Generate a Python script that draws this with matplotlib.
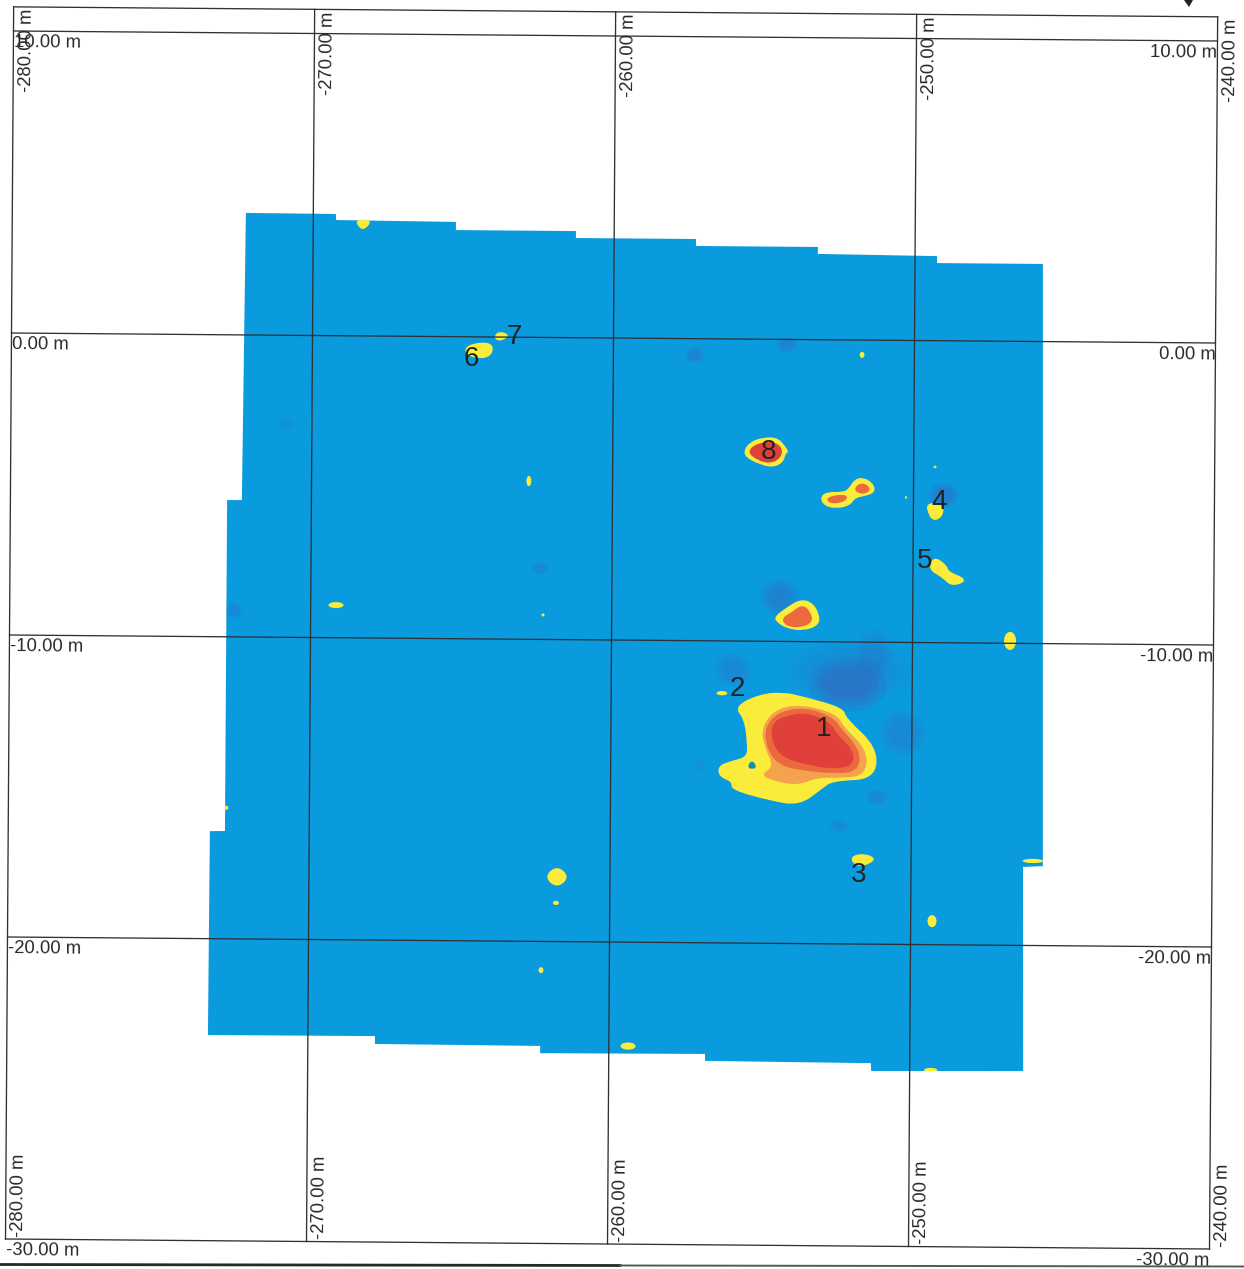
import matplotlib
matplotlib.use("Agg")
import matplotlib.pyplot as plt
from matplotlib.patches import Polygon, Ellipse, PathPatch
from matplotlib.path import Path
from matplotlib.transforms import Affine2D

plt.rcParams['font.family'] = ['Liberation Sans', 'DejaVu Sans']

# map grid, metres
grid_east = [-280, -270, -260, -250, -240]
grid_north = [10, 0, -10, -20, -30]
frame_top = 10.8

east_labels = ["-280.00 m", "-270.00 m", "-260.00 m", "-250.00 m", "-240.00 m"]
north_labels = ["10.00 m", "0.00 m", "-10.00 m", "-20.00 m", "-30.00 m"]

# surveyed area outline (east, north)
survey_area = [(-272.24, 4.04), (-269.25, 4.03), (-269.24, 3.83), (-265.26, 3.80), (-265.26, 3.53),
               (-261.27, 3.53), (-261.27, 3.30), (-257.28, 3.30), (-257.28, 3.07), (-253.23, 3.07),
               (-253.23, 2.84), (-249.27, 2.80), (-249.27, 2.57), (-245.75, 2.57), (-245.62, -17.37),
               (-246.28, -17.40), (-246.23, -24.16), (-251.28, -24.20), (-251.29, -23.94), (-256.80, -23.91),
               (-256.80, -23.68), (-262.28, -23.70), (-262.28, -23.46), (-267.77, -23.44), (-267.77, -23.18),
               (-273.32, -23.19), (-273.30, -16.44), (-272.80, -16.43), (-272.80, -5.47), (-272.31, -5.47)]

# anomaly 1, one outline per colour band
blob1_yellow = [(-255.88, -12.17), (-255.05, -11.77), (-254.28, -11.70), (-253.62, -11.84), (-252.29, -12.20),
                (-252.22, -12.53), (-251.16, -13.49), (-251.23, -14.52), (-252.62, -14.58), (-252.99, -14.85),
                (-253.72, -15.41), (-254.72, -15.25), (-255.98, -14.91), (-255.94, -14.65), (-256.38, -14.48),
                (-256.41, -14.15), (-255.98, -13.99), (-255.45, -13.85), (-255.45, -13.36), (-255.55, -12.60)]
blob1_orange = [(-254.45, -12.20), (-253.49, -12.13), (-252.49, -12.43), (-252.29, -12.83), (-251.49, -13.59),
                (-251.56, -14.42), (-252.49, -14.48), (-253.15, -14.48), (-253.82, -14.75), (-254.62, -14.58),
                (-254.98, -14.42), (-254.55, -14.15), (-254.88, -13.49), (-254.98, -12.83)]
blob1_redorange = [(-254.38, -12.33), (-253.49, -12.20), (-252.62, -12.53), (-252.39, -12.86), (-251.73, -13.59),
                   (-251.79, -14.25), (-252.49, -14.35), (-253.62, -14.25), (-254.38, -14.09), (-254.78, -13.59),
                   (-254.88, -12.83)]
blob1_red = [(-254.28, -12.50), (-253.49, -12.36), (-252.72, -12.70), (-252.49, -13.09), (-251.96, -13.59),
             (-251.96, -14.09), (-252.72, -14.19), (-253.62, -14.02), (-254.28, -13.82), (-254.62, -13.36),
             (-254.65, -12.76)]
blob1_hole = [(-255.45, -14.20), (-255.31, -13.95), (-255.15, -14.20)]

# the other anomalies with a hot core
blob9_yellow = [(-254.57, -9.19), (-254.17, -8.89), (-253.74, -8.62), (-253.34, -8.72), (-253.11, -9.12),
                (-253.14, -9.45), (-253.64, -9.62), (-254.17, -9.55), (-254.50, -9.35)]
blob9_core = [(-254.34, -9.25), (-254.01, -9.05), (-253.67, -8.79), (-253.41, -9.02), (-253.34, -9.35),
              (-253.74, -9.52), (-254.17, -9.48)]
blob8_yellow = [(-255.64, -3.73), (-255.44, -3.43), (-255.01, -3.27), (-254.54, -3.27), (-254.28, -3.56),
                (-254.18, -3.73), (-254.28, -3.76), (-254.35, -4.06), (-254.71, -4.23), (-255.18, -4.09),
                (-255.51, -3.93)]
blob8_core = [(-255.51, -3.73), (-255.21, -3.47), (-254.68, -3.40), (-254.38, -3.60), (-254.44, -3.93),
              (-254.78, -4.09), (-255.18, -3.99)]
dumbbell_yellow = [(-253.08, -5.23), (-252.88, -5.06), (-252.35, -5.06), (-252.15, -4.96), (-251.95, -4.63),
                   (-251.68, -4.57), (-251.38, -4.73), (-251.28, -5.00), (-251.55, -5.13), (-251.95, -5.20),
                   (-252.11, -5.46), (-252.55, -5.56), (-252.94, -5.49)]
dumbbell_core_a = [(-252.88, -5.23), (-252.35, -5.13), (-252.18, -5.23), (-252.45, -5.39), (-252.78, -5.39)]
dumbbell_core_b = [(-251.95, -4.90), (-251.71, -4.73), (-251.45, -4.90), (-251.55, -5.06), (-251.85, -5.06)]

# yellow only anomalies
blob4 = [(-249.55, -5.48), (-249.38, -5.38), (-249.05, -5.44), (-249.01, -5.71), (-249.18, -5.91),
         (-249.38, -5.91), (-249.48, -5.71)]
blob5 = [(-249.37, -7.26), (-249.17, -7.23), (-248.87, -7.49), (-248.84, -7.66), (-248.18, -7.92),
         (-248.71, -8.12), (-249.01, -7.82), (-249.44, -7.59)]
blob3 = [(-251.96, -17.09), (-251.53, -17.02), (-251.16, -17.19), (-251.63, -17.42), (-251.93, -17.32)]
blob6 = [(-264.93, -0.40), (-264.66, -0.23), (-264.10, -0.20), (-264.00, -0.43), (-264.16, -0.66),
         (-264.50, -0.69), (-264.83, -0.60)]
blob7 = [(-263.94, 0.04), (-263.78, 0.17), (-263.48, 0.07), (-263.68, -0.09), (-263.88, -0.09)]
blob_top = [(-268.60, 3.83), (-268.08, 3.83), (-268.25, 3.58), (-268.42, 3.55)]
blob_diamond = [(-262.16, -17.86), (-261.76, -17.50), (-261.36, -17.86), (-261.76, -18.21)]

# small yellow specks: east, north, half width, half height
speck_east = [-262.78, -269.16, -262.28, -246.76, -256.32, -261.79, -249.29, -262.27, -259.36, -251.74, -245.95, -249.30, -272.77, -249.29, -250.25]
speck_north = [-4.76, -8.92, -9.19, -9.92, -11.73, -18.72, -19.22, -20.95, -23.44, -0.49, -17.20, -24.15, -15.66, -4.18, -5.20]
speck_w = [0.08, 0.25, 0.05, 0.20, 0.18, 0.10, 0.15, 0.08, 0.25, 0.08, 0.35, 0.22, 0.08, 0.05, 0.03]
speck_h = [0.17, 0.10, 0.05, 0.30, 0.07, 0.07, 0.20, 0.10, 0.12, 0.10, 0.07, 0.07, 0.07, 0.04, 0.05]

# darker low value patches: east, north, half width, half height
low_east = [-252.14, -252.14, -251.30, -250.30, -254.40, -255.96, -249.00, -257.30, -254.24, -262.40, -272.57, -251.15, -252.40, -270.85, -257.03]
low_north = [-11.42, -11.00, -10.40, -13.00, -8.53, -10.96, -5.11, -0.54, -0.18, -7.64, -9.11, -15.13, -16.10, -2.97, -14.12]
low_w = [1.30, 2.10, 0.65, 0.75, 0.65, 0.60, 0.50, 0.33, 0.33, 0.27, 0.33, 0.37, 0.33, 0.27, 0.20]
low_h = [0.90, 1.00, 0.85, 0.75, 0.60, 0.55, 0.40, 0.27, 0.27, 0.23, 0.27, 0.27, 0.23, 0.23, 0.20]
low_strength = [0.30, 0.10, 0.12, 0.16, 0.22, 0.16, 0.28, 0.20, 0.20, 0.16, 0.14, 0.16, 0.12, 0.08, 0.08]

# numbered finds
find_labels = ["1", "2", "3", "4", "5", "6", "7", "8"]
find_east = [-252.95, -255.82, -251.73, -249.15, -249.60, -264.73, -263.31, -254.81]
find_north = [-12.89, -11.59, -17.72, -5.34, -7.30, -0.74, 0.00, -3.73]

BLUE = '#0a9ade'
YELLOW = '#fbec3c'
ORANGE = '#f5a24f'
REDORANGE = '#ea6a3e'
RED = '#e0403a'
LINE = '#2c3338'
TEXT = '#2a2a2a'

fig = plt.figure(figsize=(12.44, 12.69), dpi=100)
ax = fig.add_axes([0, 0, 1, 1])
ax.set_xlim(0, 1244)
ax.set_ylim(1269, 0)
ax.axis('off')

# the scanned sheet is slightly turned, so metres go to pixels through this
map_tf = Affine2D.from_values(30.1, 0.25, 0.2, -30.2, 312.5 + 270 * 30.1, 335.5 + 270 * 0.25) + ax.transData


def fill_blob(points, color, z=2):
	# rounded outline, the outline points act as curve handles
	n = len(points)
	verts = []
	codes = []
	for i in range(n):
		x0, y0 = points[i]
		x1, y1 = points[(i + 1) % n]
		mid = ((x0 + x1) / 2, (y0 + y1) / 2)
		if i == 0:
			xl, yl = points[-1]
			verts.append(((xl + x0) / 2, (yl + y0) / 2))
			codes.append(Path.MOVETO)
		verts += [points[i], mid]
		codes += [Path.CURVE3, Path.CURVE3]
	p = PathPatch(Path(verts, codes), facecolor=color, edgecolor=color, lw=1.0, transform=map_tf, zorder=z)
	ax.add_patch(p)
	return p


area = Polygon(survey_area, closed=True, facecolor=BLUE, edgecolor='none', transform=map_tf, zorder=1)
ax.add_patch(area)

for e, n, w, h, s in zip(low_east, low_north, low_w, low_h, low_strength):
	for scale in (1.0, 0.8, 0.6):
		el = Ellipse((e, n), 2 * w * scale, 2 * h * scale, facecolor='#4a58b8', edgecolor='none',
			alpha=s * 0.55, transform=map_tf, zorder=1.5)
		ax.add_patch(el)
		el.set_clip_path(area)

for poly, color in [(blob1_yellow, YELLOW), (blob1_orange, ORANGE), (blob1_redorange, REDORANGE),
		(blob1_red, RED), (blob1_hole, '#0f8fa8'),
		(blob9_yellow, YELLOW), (blob9_core, REDORANGE),
		(blob8_yellow, YELLOW), (blob8_core, RED),
		(dumbbell_yellow, YELLOW), (dumbbell_core_a, REDORANGE), (dumbbell_core_b, REDORANGE),
		(blob4, YELLOW), (blob5, YELLOW), (blob3, YELLOW), (blob6, YELLOW), (blob7, YELLOW),
		(blob_top, YELLOW), (blob_diamond, YELLOW)]:
	fill_blob(poly, color)

for e, n, w, h in zip(speck_east, speck_north, speck_w, speck_h):
	sp = Ellipse((e, n), 2 * w, 2 * h, facecolor=YELLOW, edgecolor='none', transform=map_tf, zorder=2)
	ax.add_patch(sp)
	sp.set_clip_path(area)

# grid and frame
for e in grid_east:
	ax.plot([e, e], [grid_north[-1], frame_top], color=LINE, lw=0.95, transform=map_tf, zorder=3)
for n in grid_north:
	ax.plot([grid_east[0], grid_east[-1]], [n, n], color=LINE, lw=0.95, transform=map_tf, zorder=3)
ax.plot([grid_east[0], grid_east[-1]], [frame_top, frame_top], color=LINE, lw=0.95, transform=map_tf, zorder=3)

# labels along the frame
for e, txt in zip(grid_east, east_labels):
	ax.annotate(txt, xy=(e, frame_top), xycoords=map_tf, xytext=(13, -2), textcoords='offset pixels',
		rotation=89.5, ha='center', va='top', fontsize=13.3, color=TEXT, zorder=5)
	ax.annotate(txt, xy=(e, grid_north[-1]), xycoords=map_tf, xytext=(13, 2), textcoords='offset pixels',
		rotation=89.5, ha='center', va='bottom', fontsize=13.3, color=TEXT, zorder=5)
for n, txt in zip(grid_north, north_labels):
	ax.annotate(txt, xy=(grid_east[0], n), xycoords=map_tf, xytext=(0, -12), textcoords='offset pixels',
		rotation=-0.5, ha='left', va='center', fontsize=13.3, color=TEXT, zorder=5)
	ax.annotate(txt, xy=(grid_east[-1], n), xycoords=map_tf, xytext=(0, -12), textcoords='offset pixels',
		rotation=-0.5, ha='right', va='center', fontsize=13.3, color=TEXT, zorder=5)

for txt, e, n in zip(find_labels, find_east, find_north):
	ax.text(e, n, txt, transform=map_tf, ha='center', va='center', fontsize=20, color='#1f2326', zorder=6)

# bits of the next sheet caught by the scanner
ax.plot([0, 620], [1264.5, 1265.5], color='#2a2725', lw=2.0, zorder=4)
ax.plot([620, 1244], [1265.5, 1266.5], color='#5a5654', lw=1.4, zorder=4)
ax.add_patch(Polygon([(1184, 0), (1193, 0), (1189, 7)], closed=True, facecolor='#222222', edgecolor='none', zorder=4))

fig.savefig('out.png', dpi=100)
